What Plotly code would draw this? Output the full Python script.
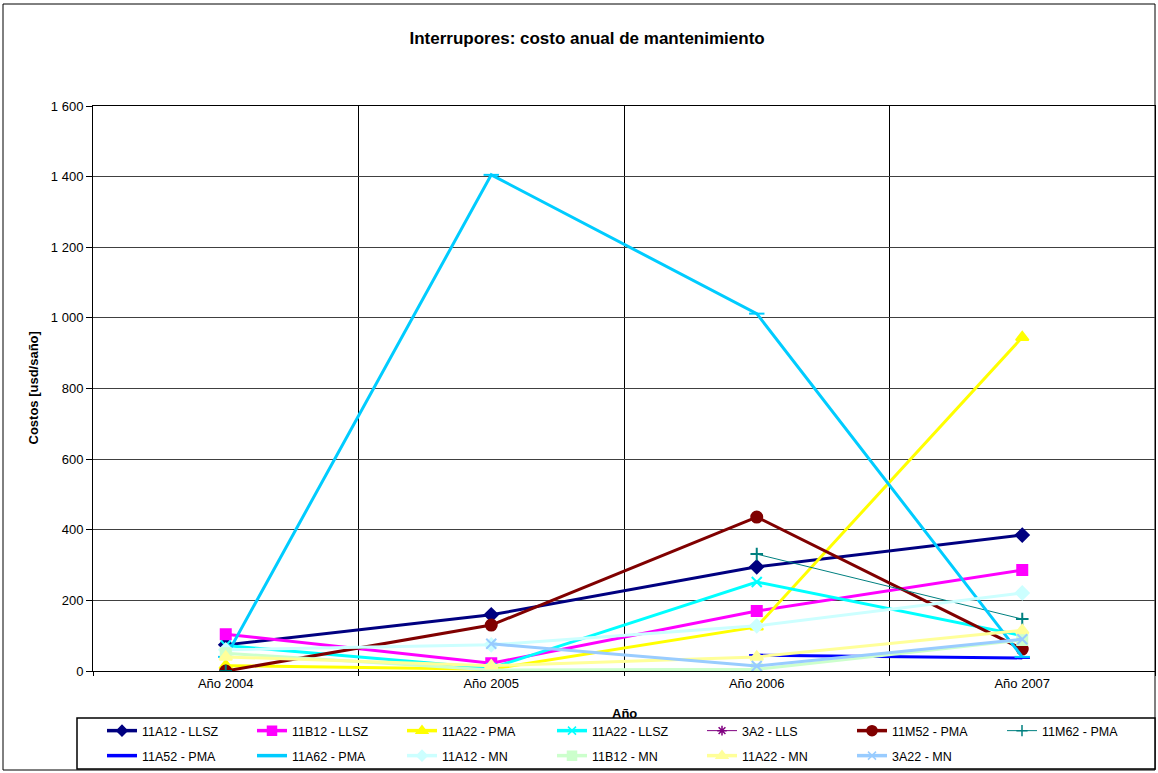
import plotly.graph_objects as go

years = ["Año 2004", "Año 2005", "Año 2006", "Año 2007"]

s_11A12_LLSZ = [74, 159, 295, 385]
s_11B12_LLSZ = [104, 22, 170, 286]
s_11A22_PMA = [15, 5, 125, 945]
s_11A22_LLSZ = [72, 8, 252, 100]
s_3A2_LLS = [None, None, None, None]
s_11M52_PMA = [0, 130, 436, 62]
s_11M62_PMA = [0, None, 331, 147]
s_11A52_PMA = [None, None, 45, 37]
s_11A62_PMA = [40, 1405, 1012, 40]
s_11A12_MN = [60, 74, 128, 221]
s_11B12_MN = [50, 3, 5, 88]
s_11A22_MN = [40, 15, 40, 115]
s_3A22_MN = [None, 77, 14, 90]

# name, values, colour, symbol, marker size (plot), marker size (legend), line width, legend
series = [
    ("11A12 - LLSZ", s_11A12_LLSZ, "#000080", "diamond", 10, 8, 3, "legend"),
    ("11B12 - LLSZ", s_11B12_LLSZ, "#FF00FF", "square", 10, 9, 3, "legend"),
    ("11A22 - PMA", s_11A22_PMA, "#FFFF00", "triangle-up", 11, 10, 3, "legend"),
    ("11A22 - LLSZ", s_11A22_LLSZ, "#00FFFF", "x-thin-open", 10, 8, 3, "legend"),
    ("3A2 - LLS", s_3A2_LLS, "#800080", "asterisk-open", 8, 8, 1, "legend"),
    ("11M52 - PMA", s_11M52_PMA, "#800000", "circle", 11, 10, 3, "legend"),
    ("11M62 - PMA", s_11M62_PMA, "#008080", "cross-thin-open", 9, 8, 1, "legend"),
    ("11A52 - PMA", s_11A52_PMA, "#0000FF", "line-ew-open", 11, 8, 3, "legend2"),
    ("11A62 - PMA", s_11A62_PMA, "#00CCFF", "line-ew-open", 11, 8, 3, "legend2"),
    ("11A12 - MN", s_11A12_MN, "#CCFFFF", "diamond", 10, 8, 3, "legend2"),
    ("11B12 - MN", s_11B12_MN, "#CCFFCC", "square", 10, 9, 3, "legend2"),
    ("11A22 - MN", s_11A22_MN, "#FFFF99", "triangle-up", 11, 10, 3, "legend2"),
    ("3A22 - MN", s_3A22_MN, "#99CCFF", "x-thin-open", 10, 8, 3, "legend2"),
]

fig = go.Figure()
for name, vals, color, sym, size, lsize, lw, leg in series:
    fig.add_trace(go.Scatter(
        x=years, y=vals, name=name, mode="lines+markers",
        line=dict(color=color, width=lw),
        marker=dict(symbol=sym, size=size, color=color,
                    line=dict(color=color, width=2)),
        showlegend=False,
    ))
for name, vals, color, sym, size, lsize, lw, leg in series:
    fig.add_trace(go.Scatter(
        x=[None], y=[None], name=name, mode="lines+markers",
        line=dict(color=color, width=lw + 0.5 if lw > 1 else lw),
        marker=dict(symbol=sym, size=lsize, color=color,
                    line=dict(color=color, width=1.5)),
        legend=leg, showlegend=True,
    ))

W, H = 1158, 773
L, R, T, B = 93, 3, 106, 102
pw, ph = W - L - R, H - T - B

def px(xp):
    return (xp - L) / pw

def py(yp):
    return (H - B - yp) / ph

font = "Arial, Liberation Sans, sans-serif"

fig.update_layout(
    width=W, height=H,
    margin=dict(l=L, r=R, t=T, b=B, autoexpand=False),
    paper_bgcolor="white", plot_bgcolor="white",
    font=dict(family=font, size=13, color="black"),
    separators=". ",
    showlegend=True,
    title=dict(text="<b>Interrupores: costo anual de mantenimiento</b>",
               x=0.507, xanchor="center", y=1 - 38 / H, yanchor="middle",
               font=dict(size=17, family=font, color="black")),
    legend=dict(orientation="h", x=px(102), xanchor="left", y=py(716), yanchor="top",
                entrywidth=105, entrywidthmode="pixels", bgcolor="rgba(0,0,0,0)",
                font=dict(size=12.5, family=font), itemwidth=30),
    legend2=dict(orientation="h", x=px(102), xanchor="left", y=py(741), yanchor="top",
                 entrywidth=105, entrywidthmode="pixels", bgcolor="rgba(0,0,0,0)",
                 font=dict(size=12.5, family=font), itemwidth=30),
    xaxis=dict(type="category", categoryorder="array", categoryarray=years,
               range=[-0.5, 3.5], tickson="boundaries", ticks="outside", ticklen=4,
               tickcolor="black", showgrid=True, gridcolor="black", gridwidth=1,
               showline=True, linecolor="black", linewidth=1, mirror=True,
               tickfont=dict(size=13, family=font, color="black"), zeroline=False),
    yaxis=dict(range=[0, 1600], dtick=200, tickformat=",d", ticks="outside", ticklen=6,
               tickcolor="black", showgrid=True, gridcolor="#404040", gridwidth=1,
               showline=True, linecolor="black", linewidth=1, mirror=True,
               tickfont=dict(size=13, family=font, color="black"), zeroline=False),
    shapes=[
        dict(type="rect", xref="paper", yref="paper", x0=px(3), x1=px(1155),
             y0=py(770), y1=py(4), line=dict(color="black", width=1), layer="below"),
        dict(type="rect", xref="paper", yref="paper", x0=px(77), x1=px(1155),
             y0=py(769), y1=py(718), line=dict(color="black", width=1.5),
             fillcolor="white", layer="above"),
    ],
    annotations=[
        dict(text="<b>Año</b>", xref="paper", yref="paper", x=0.5, y=py(713),
             xanchor="center", yanchor="middle", showarrow=False,
             font=dict(size=13, family=font, color="black")),
        dict(text="<b>Costos [usd/saño]</b>", xref="paper", yref="paper",
             x=px(33), y=0.5, xanchor="center", yanchor="middle", textangle=-90,
             showarrow=False, font=dict(size=13, family=font, color="black")),
    ],
)

fig.write_html("out.html", config={"displayModeBar": False},
               post_script="document.body.style.margin='0px';")
